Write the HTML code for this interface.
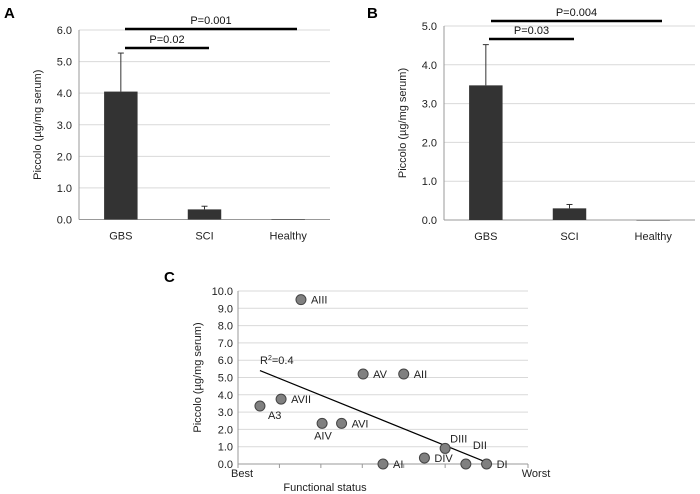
<!DOCTYPE html>
<html><head><meta charset="utf-8"><style>
body{margin:0;background:#fff;}
svg{display:block;font-family:"Liberation Sans",sans-serif;}
</style></head><body>
<svg id="s" width="700" height="494">
<g id="A"></g>
<g id="B"></g>
<g id="C"></g>
</svg>
<script>
const barCats=["GBS","SCI","Healthy"];
const aValues=[4.05,0.32,0.01];
const aErrors=[5.27,0.42,0.01];
const aTicks=["0.0","1.0","2.0","3.0","4.0","5.0","6.0"];
const bValues=[3.47,0.3,0];
const bErrors=[4.52,0.4,0];
const bTicks=["0.0","1.0","2.0","3.0","4.0","5.0"];
const cLabels=["A3","AVII","AIII","AIV","AVI","AV","AI","AII","DIV","DIII","DII","DI"];
const cX=[0.53,1.04,1.52,2.03,2.5,3.02,3.5,4.0,4.5,5.0,5.5,6.0];
const cY=[3.35,3.75,9.5,2.35,2.35,5.2,0,5.2,0.35,0.9,0,0];
const cTicks=["0.0","1.0","2.0","3.0","4.0","5.0","6.0","7.0","8.0","9.0","10.0"];
const trendX=[0.53,6.0];
const trendY=[5.4,0.1];
const NS="http://www.w3.org/2000/svg";
function mk(p,t,a,txt){const e=document.createElementNS(NS,t);for(const k in a)e.setAttribute(k,a[k]);if(txt!==undefined)e.textContent=txt;p.appendChild(e);return e;}

function barChart(g,o){
  const y=v=>o.y0-(v/o.max)*(o.y0-o.yTop);
  const band=(o.right-o.left)/barCats.length;
  const cx=i=>o.left+band*(i+0.5);
  o.ticks.forEach((t,i)=>{
    const v=parseFloat(t);
    if(v>0){const l=mk(g,"line",{x1:o.left,x2:o.right,y1:y(v),y2:y(v),stroke:"#d9d9d9","stroke-width":1});}
    const tx=mk(g,"text",{x:o.left-7,y:y(v)+4,"font-size":11,"text-anchor":"end",fill:"#222"},t);
    
  });
  const ax=mk(g,"line",{x1:o.left,x2:o.left,y1:o.yTop,y2:o.y0,stroke:"#999"});
  const xa=mk(g,"line",{x1:o.left,x2:o.right,y1:o.y0,y2:o.y0,stroke:"#999"});
  barCats.forEach((c,i)=>{
    const bw=band*0.4, x=cx(i)-bw/2;
    const b=mk(g,"rect",{x:x,y:y(o.vals[i]),width:bw,height:Math.max(0.5,o.y0-y(o.vals[i])),fill:"#333"});
    
    if(o.errs[i]>o.vals[i]+0.01){
      const e=mk(g,"line",{x1:cx(i),x2:cx(i),y1:y(o.vals[i]),y2:y(o.errs[i]),stroke:"#333","stroke-width":1});
      mk(g,"line",{x1:cx(i)-3,x2:cx(i)+3,y1:y(o.errs[i]),y2:y(o.errs[i]),stroke:"#333"});
    }
    const l=mk(g,"text",{x:cx(i),y:o.y0+20,"font-size":11,"text-anchor":"middle",fill:"#222"},c);
    
  });
  const t=mk(g,"text",{x:0,y:0,"font-size":11,"text-anchor":"middle",fill:"#222",transform:`translate(${o.left-38},${(o.yTop+o.y0)/2}) rotate(-90)`},"Piccolo (µg/mg serum)");
  
  const p=mk(g,"text",{x:o.panelX,y:o.panelY,"font-size":15,"font-weight":"bold",fill:"#000"},o.panel);
  
  o.sig.forEach(s=>{
    const ln=mk(g,"line",{x1:s.x1,x2:s.x2,y1:s.y,y2:s.y,stroke:"#000","stroke-width":2.5});
    const tx=mk(g,"text",{x:(s.x1+s.x2)/2,y:s.y-5,"font-size":11,"text-anchor":"middle",fill:"#111"},s.t);
  });
}
barChart(document.getElementById("A"),{left:79,right:330,yTop:30,y0:219.5,max:6,ticks:aTicks,vals:aValues,errs:aErrors,panel:"A",panelX:4,panelY:18,
  sig:[{x1:125,x2:209,y:48,t:"P=0.02"},{x1:125,x2:297,y:29,t:"P=0.001"}]});
barChart(document.getElementById("B"),{left:444,right:695,yTop:26,y0:220,max:5,ticks:bTicks,vals:bValues,errs:bErrors,panel:"B",panelX:367,panelY:18,
  sig:[{x1:489,x2:574,y:39,t:"P=0.03"},{x1:491,x2:662,y:21,t:"P=0.004"}]});

(function(){
  const g=document.getElementById("C");
  const L=238,R=528,T=291,B=464;
  const x=v=>L+v*(R-L)/7, y=v=>B-v*(B-T)/10;
  cTicks.forEach(t=>{const v=parseFloat(t);
    if(v>0){const l=mk(g,"line",{x1:L,x2:R,y1:y(v),y2:y(v),stroke:"#d9d9d9"});}
    const tx=mk(g,"text",{x:L-5,y:y(v)+4,"font-size":11,"text-anchor":"end",fill:"#222"},t);});
  const ya=mk(g,"line",{x1:L,x2:L,y1:T,y2:B,stroke:"#999"});
  const xa=mk(g,"line",{x1:L,x2:R,y1:B,y2:B,stroke:"#999"});
  for(let i=0;i<=7;i++)mk(g,"line",{x1:x(i),x2:x(i),y1:B,y2:B+4,stroke:"#999"});
  const tl=mk(g,"line",{x1:x(trendX[0]),y1:y(trendY[0]),x2:x(trendX[1]),y2:y(trendY[1]),stroke:"#000","stroke-width":1.2});
  
  const offs={A3:[8,13],AIV:[-8,16],DIII:[5,-6],DII:[7,-15]};
  cLabels.forEach((lab,i)=>{
    const c=mk(g,"circle",{cx:x(cX[i]),cy:y(cY[i]),r:5,fill:"#808080",stroke:"#444","stroke-width":1});
    
    const o=offs[lab]||[10,4];
    const t=mk(g,"text",{x:x(cX[i])+o[0],y:y(cY[i])+o[1],"font-size":11,fill:"#222"},lab);
    
  });
  const r=mk(g,"text",{x:260,y:364,"font-size":11,fill:"#222"});
  r.innerHTML='R<tspan dy="-4" font-size="7">2</tspan><tspan dy="4">=0.4</tspan>';
  [["Best",L-7,477,"start","x-min-label"],["Worst",R+8,477,"middle","x-max-label"],["Functional status",325,491,"middle","x-axis-title"]].forEach(a=>{
    const t=mk(g,"text",{x:a[1],y:a[2],"font-size":11,"text-anchor":a[3],fill:"#222"},a[0]);});
  const yt=mk(g,"text",{x:0,y:0,"font-size":11,"text-anchor":"middle",fill:"#222",transform:`translate(201,${(T+B)/2}) rotate(-90)`},"Piccolo (µg/mg serum)");
  
  const p=mk(g,"text",{x:164,y:282,"font-size":15,"font-weight":"bold",fill:"#000"},"C");
})();
</script>
</body></html>
